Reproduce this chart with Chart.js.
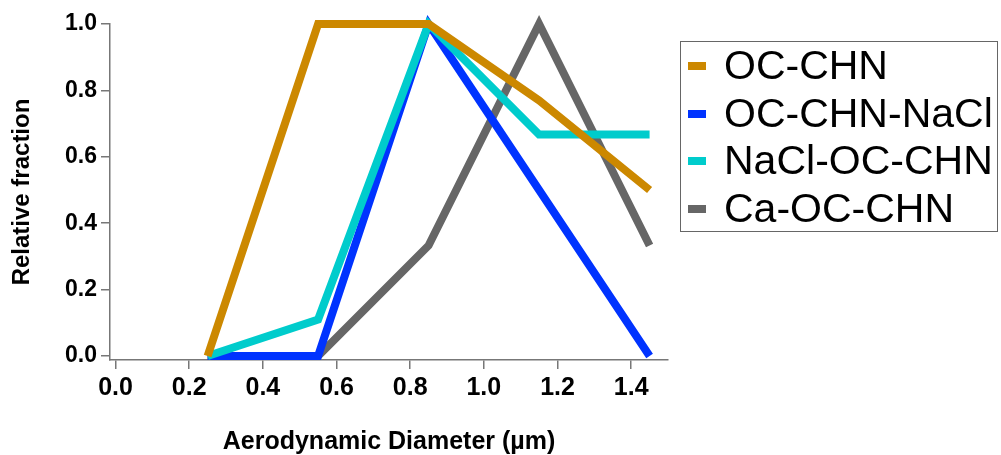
<!DOCTYPE html>
<html>
<head>
<meta charset="utf-8">
<script src="https://cdn.jsdelivr.net/npm/chart.js@4/dist/chart.umd.min.js"></script>
<style>
    body { margin: 0; background: #fff; }
    #wrap { position: relative; width: 1001px; height: 455px; }
    #legend {
        position: absolute; left: 680px; top: 41px; width: 318px; height: 191px;
        box-sizing: border-box; border: 1.5px solid #666; padding-top: 0px;
        font-family: "Liberation Sans", Arial, sans-serif; font-size: 41px; color: #000;
    }
    .row { position: relative; height: 47.5px; line-height: 47.5px; white-space: nowrap; }
    .swatch { position: absolute; left: 7px; top: 20px; width: 18px; height: 8px; }
    .label { position: absolute; left: 43px; top: 0; }
</style>
</head>
<body>
<div id="wrap">
    <canvas id="chart" width="1001" height="455"></canvas>
    <div id="legend"></div>
</div>
<script>
// 입자 크기 (µm)
const sizes = [0.25, 0.55, 0.85, 1.15, 1.45];
const ocChn = [0, 1, 1, 0.77, 0.5];
const ocChnNaCl = [0, 0, 1, 0.5, 0];
const naclOcChn = [0, 0.11, 1, 0.667, 0.667];
const caOcChn = [0, 0, 0.333, 1, 0.333];

const seriesNames = ['OC-CHN', 'OC-CHN-NaCl', 'NaCl-OC-CHN', 'Ca-OC-CHN'];
const seriesValues = [ocChn, ocChnNaCl, naclOcChn, caOcChn];
const seriesColors = ['#CC8800', '#0033FF', '#00CCCC', '#666666'];
const drawOrder = [0, 2, 1, 3];

const xTicks = [0.0, 0.2, 0.4, 0.6, 0.8, 1.0, 1.2, 1.4];
const yTicks = [0.0, 0.2, 0.4, 0.6, 0.8, 1.0];

document.addEventListener('DOMContentLoaded', function() {
    const axisColor = '#777';
    const tickFont = { family: '"Liberation Sans", Arial, sans-serif', weight: 'bold' };

    const datasets = seriesNames.map(function(name, i) {
        return {
            label: name,
            data: sizes.map(function(s, j) { return { x: s, y: seriesValues[i][j] }; }),
            borderColor: seriesColors[i],
            backgroundColor: seriesColors[i],
            borderWidth: 8,
            borderJoinStyle: 'miter',
            borderCapStyle: 'butt',
            pointRadius: 0,
            tension: 0,
            fill: false,
            clip: false,
            order: drawOrder[i]
        };
    });

    new Chart(document.getElementById('chart'), {
        type: 'line',
        data: { datasets: datasets },
        options: {
            responsive: false,
            animation: false,
            devicePixelRatio: 1,
            layout: { padding: { top: 24, right: 333, bottom: 0, left: 0 } },
            plugins: {
                legend: { display: false },
                tooltip: { enabled: false }
            },
            scales: {
                x: {
                    type: 'linear',
                    min: -0.015,
                    max: 1.5,
                    afterBuildTicks: function(scale) {
                        scale.ticks = xTicks.map(function(v) { return { value: v }; });
                    },
                    afterFit: function(scale) { scale.height = 95; },
                    grid: { drawOnChartArea: false, drawTicks: true, tickLength: 9, color: axisColor, lineWidth: 1.5 },
                    border: { display: true, color: axisColor, width: 1.5 },
                    ticks: {
                        color: '#000',
                        padding: 4,
                        maxRotation: 0,
                        font: Object.assign({ size: 25 }, tickFont),
                        callback: function(v) { return v.toFixed(1); }
                    },
                    title: {
                        display: true,
                        text: 'Aerodynamic Diameter (µm)',
                        color: '#000',
                        padding: 0,
                        font: Object.assign({ size: 25, lineHeight: 1 }, tickFont)
                    }
                },
                y: {
                    min: -0.012,
                    max: 1.0,
                    afterBuildTicks: function(scale) {
                        scale.ticks = yTicks.map(function(v) { return { value: v }; });
                    },
                    afterFit: function(scale) { scale.width = 110; },
                    grid: { drawOnChartArea: false, drawTicks: true, tickLength: 9, color: axisColor, lineWidth: 1.5 },
                    border: { display: true, color: axisColor, width: 1.5 },
                    ticks: {
                        color: '#000',
                        padding: 4,
                        font: Object.assign({ size: 23 }, tickFont),
                        callback: function(v) { return v.toFixed(1); }
                    },
                    title: {
                        display: true,
                        text: 'Relative fraction',
                        color: '#000',
                        padding: { top: 8, bottom: 0 },
                        font: Object.assign({ size: 24 }, tickFont)
                    }
                }
            }
        }
    });

    // 범례 만들기
    const legend = document.getElementById('legend');
    seriesNames.forEach(function(name, i) {
        const row = document.createElement('div');
        row.className = 'row';
        row.innerHTML = '<span class="swatch" style="background:' + seriesColors[i] + '"></span>' +
            '<span class="label">' + name + '</span>';
        legend.appendChild(row);
    });
});
</script>
</body>
</html>
